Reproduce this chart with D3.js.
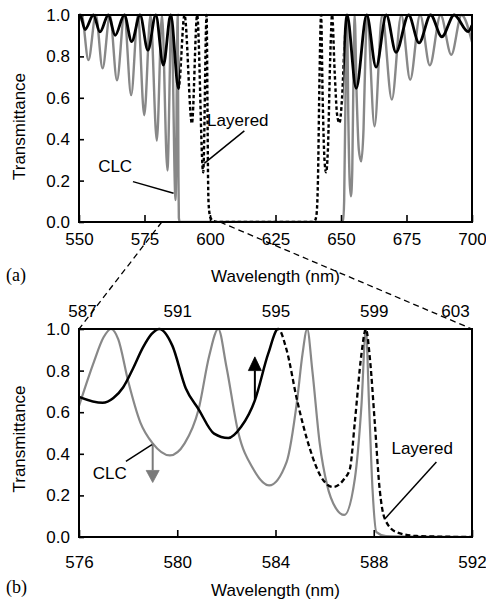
<!DOCTYPE html>
<html><head><meta charset="utf-8">
<script src="https://cdn.jsdelivr.net/npm/d3@7"></script>
<style>
body{margin:0;background:#fff}
svg text{font-family:"Liberation Sans",Arial,Helvetica,sans-serif;fill:#000}
</style>
</head><body>
<svg id="c" width="486" height="605"></svg>
<script>
// ---------- DATA ----------
// Panel (a): full spectrum, wavelength (nm) / transmittance
const clcFull = [
 [550,0.97],[551.0,1.0],[553.6,0.782],[556.4,1.0],[559.0,0.742],[561.8,1.0],[564.5,0.685],
 [567.3,1.0],[569.9,0.613],[572.5,1.0],[574.9,0.516],[577.3,1.0],[579.7,0.393],[581.67,1.0],
 [583.75,0.249],[585.28,1.0],[586.85,0.106],[587.68,1.0],[587.95,0.23],[588.11,0.02],[588.5,0],
 [650.8,0],[651.2,0.1],[651.8,0.7],[652.3,1.0],[652.8,0.5],[653.3,0.2],[653.8,0.124],[654.3,0.25],
 [654.8,0.75],[655.2,1.0],[656.0,0.6],[656.8,0.35],[657.7,0.293],[658.6,0.45],[659.4,0.85],
 [660.0,1.0],[662.8,0.462],[665.7,1.0],[669.4,0.591],[673.0,1.0],[676.4,0.687],[680.2,1.0],
 [683.9,0.757],[688.0,1.0],[692.1,0.808],[696.0,1.0],[700,0.87]
];
const layeredFull = [
 [550,0.99],[550.4,1.0],[552.3,0.93],[555.5,1.0],[558.0,0.918],[561.2,1.0],[563.8,0.902],
 [567.3,1.0],[570.1,0.872],[573.3,1.0],[576.3,0.83],[579.3,1.0],[582.2,0.758],[585.0,1.0],
 [588.0,0.645],[590.27,1.0],[593.1,0.476],[595.1,1.0],[597.4,0.24],[598.7,1.0],[599.04,0.553],
 [599.24,0.23],[599.5,0.08],[600.2,0.02],[601.5,0.004],[603,0],[639.0,0],[640.0,0.006],
 [640.6,0.03],[641.2,0.2],[641.8,0.7],[642.4,1.0],[643.0,0.6],[643.7,0.3],[644.3,0.24],
 [645.0,0.35],[645.9,0.8],[646.6,1.0],[647.6,0.72],[648.5,0.52],[649.4,0.478],[650.4,0.6],
 [651.5,0.9],[652.3,1.0],[655.8,0.646],[659.8,1.0],[663.4,0.748],[667.3,1.0],[671.0,0.82],
 [675.8,1.0],[679.8,0.865],[684.2,1.0],[688.5,0.895],[693.2,1.0],[698.5,0.92],[700,0.95]
];
// Panel (b): zoom. CLC on bottom axis (576-592), Layered on top axis (587-603)
const clcZoom = [
 [576.0,0.63],[576.6,0.84],[577.0,0.96],[577.3,1.0],[577.6,0.95],[578.0,0.75],[578.5,0.55],
 [579.0,0.45],[579.7,0.392],[580.3,0.45],[580.87,0.614],[581.3,0.87],[581.67,1.0],[582.0,0.82],
 [582.48,0.505],[583.09,0.328],[583.74,0.248],[584.45,0.36],[584.88,0.657],[585.1,0.88],
 [585.29,1.0],[585.5,0.8],[585.8,0.45],[586.1,0.25],[586.45,0.14],[586.8,0.106],[587.23,0.28],
 [587.5,0.634],[587.68,1.0],[587.81,0.634],[587.95,0.23],[588.11,0.023],[588.5,0.004],[592,0]
];
const layeredZoom = [
 [587.0,0.674],[587.96,0.645],[588.4,0.668],[588.8,0.72],[589.2,0.81],[589.6,0.91],[589.95,0.975],
 [590.27,1.0],[590.8,0.92],[591.35,0.714],[591.87,0.614],[592.5,0.497],[593.08,0.476],[593.6,0.53],
 [594.16,0.657],[594.7,0.88],[595.11,1.0],[595.45,0.9],[595.88,0.657],[596.4,0.424],[596.85,0.29],
 [597.35,0.24],[597.8,0.28],[598.03,0.328],[598.23,0.553],[598.5,0.88],[598.68,1.0],[598.85,0.85],
 [599.04,0.553],[599.24,0.231],[599.45,0.087],[599.93,0.023],[600.74,0.005],[603,0]
];
// ticks
const yTicks = [0,0.2,0.4,0.6,0.8,1.0];
const xTicksA = [550,575,600,625,650,675,700];
const xTicksB = [576,580,584,588,592];
const xTicksB2 = [587,591,595,599,603];

// ---------- LAYOUT ----------
const svg = d3.select("#c");
const pA = {l:79, r:472, t:15, b:222};
const pB = {l:79, r:472, t:329, b:537};
const FS = 17;
const gray = "#888888";

const xA = d3.scaleLinear().domain([550,700]).range([pA.l,pA.r]);
const yA = d3.scaleLinear().domain([0,1]).range([pA.b,pA.t]);
const xB = d3.scaleLinear().domain([576,592]).range([pB.l,pB.r]);
const xB2 = d3.scaleLinear().domain([587,603]).range([pB.l,pB.r]);
const yB = d3.scaleLinear().domain([0,1]).range([pB.b,pB.t]);

const defs = svg.append("defs");
function clip(id, rects){
  const c = defs.append("clipPath").attr("id", id);
  rects.forEach(r => c.append("rect").attr("x",r[0]).attr("y",r[2]).attr("width",r[1]-r[0]).attr("height",r[3]-r[2]));
}
const lineFn = (x,y) => d3.line().x(d=>x(d[0])).y(d=>y(d[1])).curve(d3.curveMonotoneX);

// connector dashed lines (zoom region in panel a -> panel b corners)
const zoomSpan = [581.6, 603.8];
svg.append("line").attr("x1",xA(zoomSpan[0])).attr("y1",yA(0)).attr("x2",xB.range()[0]).attr("y2",yB(1))
  .attr("stroke","#000").attr("stroke-width",1.3).attr("stroke-dasharray","6,4");
svg.append("line").attr("x1",xA(zoomSpan[1])).attr("y1",yA(0)).attr("x2",xB.range()[1]).attr("y2",yB(1))
  .attr("stroke","#000").attr("stroke-width",1.3).attr("stroke-dasharray","6,4");

// ---------- PANEL A ----------
clip("clipA", [[pA.l,pA.r,pA.t-2,pA.b]]);
const dashA = [588.6, 650.9];
clip("clipAsolid", [[pA.l,xA(dashA[0]),pA.t-2,pA.b],[xA(dashA[1]),pA.r,pA.t-2,pA.b]]);
clip("clipAdash", [[xA(dashA[0]),xA(dashA[1]),pA.t-2,pA.b]]);

const gA = svg.append("g");
gA.append("path").datum(clcFull).attr("d", lineFn(xA,yA)).attr("fill","none")
  .attr("stroke",gray).attr("stroke-width",2.4).attr("clip-path","url(#clipA)");
gA.append("path").datum(layeredFull).attr("d", lineFn(xA,yA)).attr("fill","none")
  .attr("stroke","#000").attr("stroke-width",2.8).attr("clip-path","url(#clipAsolid)");
gA.append("path").datum(layeredFull).attr("d", lineFn(xA,yA)).attr("fill","none")
  .attr("stroke","#000").attr("stroke-width",2.4).attr("stroke-dasharray","3.5,2.5").attr("clip-path","url(#clipAdash)");

function styleAxis(g){
  g.select(".domain").remove();
  g.selectAll(".tick line").attr("stroke","#000").attr("stroke-width",1.6);
  g.selectAll(".tick text").attr("font-size",FS).attr("font-family",'"Liberation Sans",Arial,sans-serif').attr("fill","#000");
}
svg.append("g").attr("transform",`translate(0,${pA.b})`)
  .call(d3.axisBottom(xA).tickValues(xTicksA).tickSizeInner(-7).tickSizeOuter(0).tickPadding(11)).call(styleAxis);
svg.append("g").attr("transform",`translate(${pA.l},0)`)
  .call(d3.axisLeft(yA).tickValues(yTicks).tickFormat(d3.format(".1f")).tickSizeInner(-5).tickSizeOuter(0).tickPadding(9)).call(styleAxis);
svg.append("rect").attr("x",pA.l).attr("y",pA.t).attr("width",pA.r-pA.l).attr("height",pA.b-pA.t)
  .attr("fill","none").attr("stroke","#000").attr("stroke-width",2);

// annotations panel a
const annA = {clc:{text:"CLC",x:557.3,y:0.243, from:[570.6,0.195], to:[586.1,0.139]},
              lay:{text:"Layered",x:598.9,y:0.463, from:[613.1,0.44], to:[597.8,0.283]}};
Object.values(annA).forEach(a=>{
  svg.append("text").attr("x",xA(a.x)).attr("y",yA(a.y)).attr("font-size",FS).text(a.text);
  svg.append("line").attr("x1",xA(a.from[0])).attr("y1",yA(a.from[1])).attr("x2",xA(a.to[0])).attr("y2",yA(a.to[1]))
    .attr("stroke","#000").attr("stroke-width",1.5);
});
svg.append("text").attr("transform",`translate(25,${(pA.t+pA.b)/2+8}) rotate(-90)`).attr("text-anchor","middle")
  .attr("font-size",FS).text("Transmittance");
svg.append("text").attr("x",(pA.l+pA.r)/2).attr("y",282).attr("text-anchor","middle").attr("font-size",FS).text("Wavelength (nm)");
svg.append("text").attr("x",6).attr("y",281).attr("font-size",18).style("font-family",'"Liberation Serif","Times New Roman",serif').text("(a)");

// ---------- PANEL B ----------
clip("clipB", [[pB.l,pB.r,pB.t-2,pB.b]]);
const dashB = 595.11; // on top-axis scale
clip("clipBsolid", [[pB.l,xB2(dashB),pB.t-2,pB.b]]);
clip("clipBdash", [[xB2(dashB),pB.r,pB.t-2,pB.b]]);

const gB = svg.append("g");
gB.append("path").datum(clcZoom).attr("d", lineFn(xB,yB)).attr("fill","none")
  .attr("stroke",gray).attr("stroke-width",2.2).attr("clip-path","url(#clipB)");
gB.append("path").datum(layeredZoom).attr("d", lineFn(xB2,yB)).attr("fill","none")
  .attr("stroke","#000").attr("stroke-width",2.5).attr("clip-path","url(#clipBsolid)");
gB.append("path").datum(layeredZoom).attr("d", lineFn(xB2,yB)).attr("fill","none")
  .attr("stroke","#000").attr("stroke-width",2.3).attr("stroke-dasharray","5,3").attr("clip-path","url(#clipBdash)");

svg.append("g").attr("transform",`translate(0,${pB.b})`)
  .call(d3.axisBottom(xB).tickValues(xTicksB).tickSizeInner(-7).tickSizeOuter(0).tickPadding(19)).call(styleAxis);
const topAx = svg.append("g").attr("transform",`translate(0,${pB.t})`)
  .call(d3.axisTop(xB2).tickValues(xTicksB2).tickSizeInner(0).tickSizeOuter(0).tickPadding(12)).call(styleAxis);
topAx.selectAll(".tick text").attr("dx", d => d===603 ? -17 : (d===587 ? 3 : 0));
svg.append("g").attr("transform",`translate(${pB.l},0)`)
  .call(d3.axisLeft(yB).tickValues(yTicks).tickFormat(d3.format(".1f")).tickSizeInner(-5).tickSizeOuter(0).tickPadding(9)).call(styleAxis);
svg.append("rect").attr("x",pB.l).attr("y",pB.t).attr("width",pB.r-pB.l).attr("height",pB.b-pB.t)
  .attr("fill","none").attr("stroke","#000").attr("stroke-width",2);

// arrows
function arrow(x, y0, y1, yHead, color){
  svg.append("line").attr("x1",x).attr("y1",y0).attr("x2",x).attr("y2",y1).attr("stroke",color).attr("stroke-width",2);
  svg.append("path").attr("d",`M${x-6.5},${y1}L${x+6.5},${y1}L${x},${yHead}Z`).attr("fill",color).attr("stroke",color).attr("stroke-width",0.8);
}
const arrowUp = {x:583.16, from:0.657, base:0.80, tip:0.866};
const arrowDown = {x:579.0, from:0.45, base:0.32, tip:0.262};
arrow(xB(arrowUp.x), yB(arrowUp.from), yB(arrowUp.base), yB(arrowUp.tip), "#000");
arrow(xB(arrowDown.x), yB(arrowDown.from), yB(arrowDown.base), yB(arrowDown.tip), "#7a7a7a");

const annB = {clc:{text:"CLC",x:576.56,y:0.28, from:[577.91,0.364], to:[578.97,0.444]},
              lay:{text:"Layered",x:588.72,y:0.40, from:[590.55,0.36], to:[588.45,0.087]}};
Object.values(annB).forEach(a=>{
  svg.append("text").attr("x",xB(a.x)).attr("y",yB(a.y)).attr("font-size",FS).text(a.text);
  svg.append("line").attr("x1",xB(a.from[0])).attr("y1",yB(a.from[1])).attr("x2",xB(a.to[0])).attr("y2",yB(a.to[1]))
    .attr("stroke","#000").attr("stroke-width",1.5);
});
svg.append("text").attr("transform",`translate(25,${(pB.t+pB.b)/2+6}) rotate(-90)`).attr("text-anchor","middle")
  .attr("font-size",FS).text("Transmittance");
svg.append("text").attr("x",(pB.l+pB.r)/2).attr("y",596).attr("text-anchor","middle").attr("font-size",FS).text("Wavelength (nm)");
svg.append("text").attr("x",6).attr("y",593).attr("font-size",18).style("font-family",'"Liberation Serif","Times New Roman",serif').text("(b)");
</script>
</body></html>
